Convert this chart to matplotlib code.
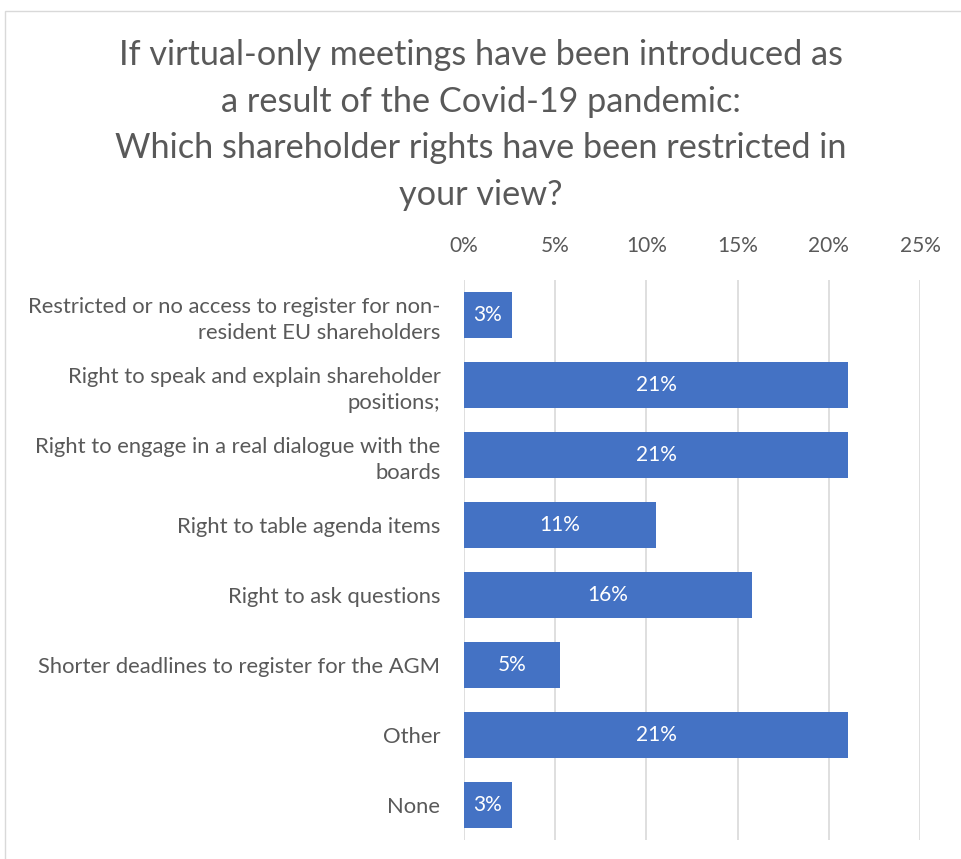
import matplotlib
matplotlib.use("Agg")
import matplotlib.pyplot as plt
from matplotlib.patches import Rectangle

categories = [
    "Restricted or no access to register for non-\nresident EU shareholders",
    "Right to speak and explain shareholder\npositions;",
    "Right to engage in a real dialogue with the\nboards",
    "Right to table agenda items",
    "Right to ask questions",
    "Shorter deadlines to register for the AGM",
    "Other",
    "None",
]
values = [2.63, 21.05, 21.05, 10.53, 15.79, 5.26, 21.05, 2.63]
xticks = [0, 5, 10, 15, 20, 25]
title = ("If virtual-only meetings have been introduced as\n"
         "a result of the Covid-19 pandemic:\n"
         "Which shareholder rights have been restricted in\n"
         "your view?")

plt.rcParams['font.family'] = ['Lato', 'DejaVu Sans']
W, H = 962, 859
fig = plt.figure(figsize=(W / 100, H / 100), dpi=100)
fig.patch.set_facecolor("white")

# chart frame
fig.add_artist(Rectangle((5 / W, -0.01), 1.0, 1 - 11 / H + 0.01, transform=fig.transFigure,
                         fill=False, edgecolor="#D9D9D9", linewidth=1))

ax = fig.add_axes([464 / W, 1 - 840 / H, (920 - 464) / W, (840 - 280) / H])
ypos = list(range(len(categories)))
bars = ax.barh(ypos, values, height=0.66, color="#4472C4", zorder=3)
ax.set_ylim(len(categories) - 0.5, -0.5)
ax.set_xlim(0, 25)
ax.set_xticks(xticks)
ax.set_xticklabels([f"{t}%" for t in xticks])
ax.xaxis.tick_top()
ax.set_yticks(ypos)
ax.set_yticklabels(categories, ha="right", multialignment="right", linespacing=1.35)
ax.tick_params(axis="both", length=0, colors="#595959")
ax.tick_params(axis="x", pad=17, labelsize=15)
ax.tick_params(axis="y", pad=17, labelsize=15.8)
ax.grid(axis="x", color="#D9D9D9", linewidth=1.2, zorder=0)
for s in ax.spines.values():
    s.set_visible(False)
for b, v in zip(bars, values):
    ax.text(v / 2, b.get_y() + b.get_height() / 2, f"{round(v):.0f}%",
            ha="center", va="center", color="white", fontsize=15, zorder=4)

fig.text(0.5, 1 - 125 / H, title, ha="center", va="center", fontsize=24.7,
         color="#595959", linespacing=1.56)

fig.savefig("out.png", dpi=100)
